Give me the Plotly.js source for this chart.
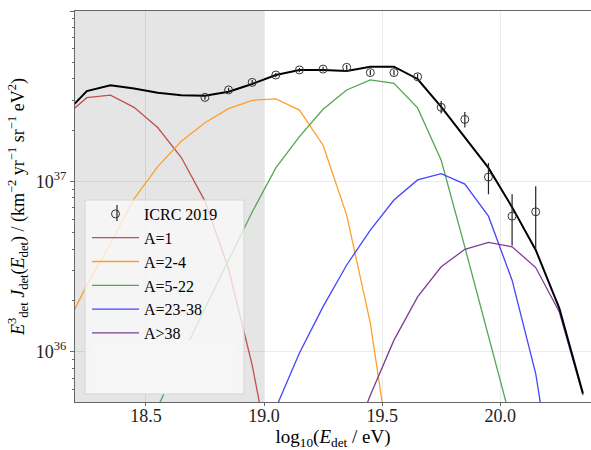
<!DOCTYPE html>
<html>
<head>
<meta charset="utf-8">
<script src="https://cdn.plot.ly/plotly-3.0.1.min.js"></script>
<style>html,body{margin:0;padding:0;background:#fff;}#chart{width:591px;height:450px;}</style>
</head>
<body>
<div id="chart"></div>
<script>
// ---- data ----
const logE = [18.15, 18.25, 18.35, 18.45, 18.55, 18.65, 18.75, 18.85, 18.95, 19.05, 19.15, 19.25,
              19.35, 19.45, 19.55, 19.65, 19.75, 19.85, 19.95, 20.05, 20.15, 20.25, 20.35];

const fluxA1     = [2.35e37, 3.10e37, 3.21e37, 2.72e37, 2.07e37, 1.38e37, 7.66e36, 3.06e36, 8.34e35, 1.6e35,
                    null, null, null, null, null, null, null, null, null, null, null, null, null];
const fluxA2_4   = [1.30e36, 2.46e36, 4.30e36, 7.90e36, 1.22e37, 1.72e37, 2.21e37, 2.67e37, 2.99e37, 3.05e37,
                    2.62e37, 1.63e37, 6.34e36, 1.47e36, 1.74e35, null, null, null, null, null, null, null, null];
const fluxA5_22  = [null, null, null, null, 4.74e35, 9.29e35, 1.80e36, 3.45e36, 6.61e36, 1.20e37,
                    1.83e37, 2.65e37, 3.44e37, 3.94e37, 3.76e37, 2.70e37, 1.33e37, 4.11e36, 1.27e36, 3.71e35,
                    null, null, null];
const fluxA23_38 = [null, null, null, null, null, null, null, null, null, 4.67e35,
                    9.82e35, 1.84e36, 3.23e36, 5.18e36, 7.77e36, 1.02e37, 1.11e37, 9.64e36, 6.25e36, 2.63e36,
                    7.45e35, 1.0e35, null];
const fluxA38    = [null, null, null, null, null, null, null, null, null, null,
                    null, null, 2.44e35, 5.56e35, 1.17e36, 2.10e36, 3.15e36, 3.99e36, 4.38e36, 4.13e36,
                    3.12e36, 1.71e36, 5.56e35];
const fluxTotal  = [2.43e37, 3.39e37, 3.67e37, 3.51e37, 3.31e37, 3.20e37, 3.18e37, 3.36e37, 3.73e37, 4.21e37,
                    4.51e37, 4.51e37, 4.45e37, 4.71e37, 4.71e37, 3.99e37, 2.74e37, 1.80e37, 1.20e37, 7.06e36,
                    3.96e36, 1.80e36, 5.69e35];

const icrcLogE  = [18.75, 18.85, 18.95, 19.05, 19.15, 19.25, 19.35, 19.45, 19.55, 19.65,
                   19.75, 19.85, 19.95, 20.05, 20.15];
const icrcFlux  = [3.11e37, 3.44e37, 3.81e37, 4.21e37, 4.51e37, 4.56e37, 4.67e37, 4.35e37, 4.35e37, 4.11e37,
                   2.72e37, 2.31e37, 1.06e37, 6.25e36, 6.63e36];
const icrcErrHi = [1.0e36, 1.0e36, 1.2e36, 1.2e36, 1.3e36, 1.4e36, 1.5e36, 1.5e36, 1.6e36, 1.7e36,
                   2.4e36, 2.4e36, 2.2e36, 2.15e36, 2.74e36];
const icrcErrLo = [1.0e36, 1.0e36, 1.2e36, 1.2e36, 1.3e36, 1.4e36, 1.5e36, 1.5e36, 1.6e36, 1.7e36,
                   2.2e36, 2.4e36, 2.2e36, 2.06e36, 2.63e36];

const seriesNames = ["A=1", "A=2-4", "A=5-22", "A=23-38", "A>38"];
const xTickVals = [18.5, 19.0, 19.5, 20.0];
const xTickText = ["18.5", "19.0", "19.5", "20.0"];
const yTickVals = [1e36, 1e37, 1e38];
const yTickText = ["10<sup>36</sup>", "10<sup>37</sup>", "10<sup>38</sup>"];

// ---- styles ----
const colors = ["#c0504d", "#ff9e2c", "#55a555", "#4444ff", "#7d3c98"];
const FONT = "Liberation Serif";
const comps = [fluxA1, fluxA2_4, fluxA5_22, fluxA23_38, fluxA38];

const traces = [];
comps.forEach((f, i) => {
  traces.push({
    x: logE, y: f, type: "scatter", mode: "lines", name: seriesNames[i],
    line: {color: colors[i], width: 1.3}, connectgaps: false, legendrank: 2 + i,
    hoverinfo: "skip"
  });
});
traces.push({
  x: logE, y: fluxTotal, type: "scatter", mode: "lines", showlegend: false,
  line: {color: "#000", width: 2}, hoverinfo: "skip"
});
traces.push({
  x: icrcLogE, y: icrcFlux, type: "scatter", mode: "markers", name: "ICRC 2019",
  legendrank: 1,
  marker: {symbol: "circle-open", size: 8, color: "#333", line: {width: 1, color: "#333"}},
  error_y: {type: "data", symmetric: false, array: icrcErrHi, arrayminus: icrcErrLo,
            width: 0, thickness: 1.2, color: "#222"},
  hoverinfo: "skip"
});

const L = 75, R = 591, T = 11, B = 402;
const px = v => (v - L) / (R - L);
const py = v => (B - v) / (B - T);

const layout = {
  width: 591, height: 450,
  margin: {l: 75, r: 0, t: 11, b: 48, pad: 0},
  paper_bgcolor: "#fff", plot_bgcolor: "#fff",
  font: {family: FONT, size: 18, color: "#000"},
  showlegend: true,
  legend: {
    x: px(87), y: py(197), xanchor: "left", yanchor: "top",
    bgcolor: "rgba(0,0,0,0)", borderwidth: 0,
    font: {family: FONT, size: 16, color: "#000"},
    traceorder: "normal", itemwidth: 47
  },
  xaxis: {
    range: [18.2, 20.384], tickvals: xTickVals, ticktext: xTickText,
    showgrid: true, gridcolor: "rgba(0,0,0,0.08)", gridwidth: 1, zeroline: false,
    showline: true, linecolor: "#666", linewidth: 1, mirror: true,
    ticks: "outside", ticklen: 3, tickcolor: "#666", ticklabelstandoff: -6,
    tickfont: {family: FONT, size: 18, color: "#222"},
    title: {text: "log<sub>10</sub>(<i>E</i><sub>det</sub> / eV)", font: {family: FONT, size: 19, color: "#000"}, standoff: 5}
  },
  yaxis: {
    type: "log", range: [35.705, 38], tickvals: yTickVals, ticktext: yTickText,
    showgrid: true, gridcolor: "rgba(0,0,0,0.08)", gridwidth: 1, zeroline: false,
    showline: true, linecolor: "#666", linewidth: 1,
    ticks: "outside", ticklen: 4, tickcolor: "#666",
    minor: {ticks: "outside", ticklen: 2, tickcolor: "#666", dtick: "D1", showgrid: false},
    tickfont: {family: FONT, size: 18, color: "#222"},
    title: {text: "<i>E</i><sup>3</sup><sub>det</sub> <i>J</i><sub>det</sub>(<i>E</i><sub>det</sub>) / (km<sup>−2</sup> yr<sup>−1</sup> sr<sup>−1</sup> eV<sup>2</sup>)",
            font: {family: FONT, size: 18, color: "#000"}, standoff: 6}
  },
  shapes: [
    {type: "rect", xref: "x", yref: "paper", x0: 18.2, x1: 19.0, y0: 0, y1: 1,
     fillcolor: "#e5e5e5", line: {width: 0}, layer: "below"},
    {type: "rect", xref: "paper", yref: "paper", x0: px(85), x1: px(244), y0: py(394), y1: py(200),
     fillcolor: "rgba(250,250,250,0.78)", line: {color: "#d6d6d6", width: 1}, layer: "above"},
    {type: "rect", xref: "paper", yref: "paper", x0: px(92), x1: px(237), y0: py(393), y1: py(340),
     fillcolor: "rgba(246,246,246,1)", line: {width: 0}, layer: "above"},
    {type: "line", xref: "paper", yref: "paper", x0: px(117), x1: px(117), y0: py(221), y1: py(205),
     line: {color: "#222", width: 1.2}, layer: "above"}
  ]
};

Plotly.newPlot("chart", traces, layout, {staticPlot: true, displayModeBar: false});
</script>
</body>
</html>
